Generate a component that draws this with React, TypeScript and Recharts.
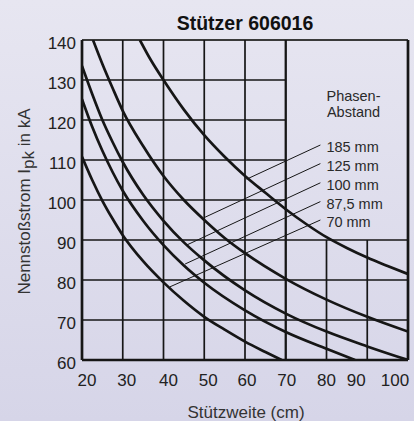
import React from 'react';
import { LineChart, Line, XAxis, YAxis, ReferenceLine, ReferenceDot } from 'recharts';

const FONT = '"Liberation Sans", Arial, Helvetica, sans-serif';
const INK = '#161616';

// Axis ticks
const xTicks = [20, 30, 40, 50, 60, 70, 80, 90, 100];
const yTicks = [60, 70, 80, 90, 100, 110, 120, 130, 140];

// Grid layout of the printed chart (values in data units)
const fullRows = [70, 80, 90];
const shortRows = [100, 110, 120, 130];
const fullCols = [30, 40, 50, 60];
const shortCols = [80, 90];

// Curves: Stützweite (cm) -> Nennstoßstrom (kA)
const span185 = [34.2, 37, 40, 45, 50, 55, 60, 65, 70, 75, 80, 85, 90, 95, 100];
const current185 = [140, 134.8, 130, 122.6, 116.2, 110.8, 106, 101.8, 97.7, 94, 90.7, 88, 85.6, 83.5, 81.5];

const span125 = [22.7, 25, 27.5, 30, 35, 40, 45, 50, 55, 60, 70, 80, 90, 100];
const current125 = [140, 134, 128, 122.3, 113.5, 106, 100, 95, 90.5, 86.7, 80.3, 75.1, 70.8, 67.1];

const span100 = [20, 22.5, 25, 27.5, 30, 35, 40, 45, 50, 60, 70, 80, 90, 100];
const current100 = [133.5, 126.5, 120, 114.5, 109.5, 101.3, 94.8, 89.4, 84.9, 77.4, 71.6, 67.1, 63.4, 60];

const span875 = [20, 22.5, 25, 27.5, 30, 35, 40, 45, 50, 60, 70, 80, 87];
const current875 = [125.2, 118.3, 112.3, 107, 102.3, 94.8, 88.7, 83.6, 79.3, 72.4, 67, 62.8, 60];

const span70 = [20, 22.5, 25, 27.5, 30, 35, 40, 45, 50, 55, 60, 65, 69];
const current70 = [110.8, 105, 99.8, 95.3, 91.2, 84.7, 79.4, 74.8, 70.8, 67.6, 64.6, 62, 60];

// Legend pointers (label end -> curve end)
const phaseLabels = ['185 mm', '125 mm', '100 mm', '87,5 mm', '70 mm'];
const pointerStartX = [78.5, 78.5, 78.5, 78.5, 78.5];
const pointerStartY = [113.75, 109.1, 104.3, 99.6, 95];
const pointerEndX = [60.4, 50.2, 45.7, 45.3, 41.6];
const pointerEndY = [105.2, 95.7, 88.75, 84, 78.3];

const toPoints = (xs: number[], ys: number[]) => xs.map((x, i) => ({ x, y: ys[i] }));

const curves = [
  toPoints(span185, current185),
  toPoints(span125, current125),
  toPoints(span100, current100),
  toPoints(span875, current875),
  toPoints(span70, current70),
];

const xTickNudge: Record<number, number> = { 20: 5, 30: 4, 40: 5, 50: 4, 60: 2, 70: 1, 80: 0, 90: -11, 100: -13 };

const XTick = (props: any) => {
  const { x, y, payload } = props;
  const v = payload.value as number;
  return (
    <text x={x + (xTickNudge[v] ?? 0)} y={y + 26} textAnchor="middle" fontSize={17} fill="#222" fontFamily={FONT}>
      {v}
    </text>
  );
};

const YTick = (props: any) => {
  const { x, y, payload } = props;
  return (
    <text x={x} y={y + 8.8} textAnchor="end" fontSize={17} fill="#222" fontFamily={FONT}>
      {payload.value}
    </text>
  );
};

export default function App() {
  return (
    <div
      style={{
        position: 'absolute',
        left: 0,
        top: 0,
        width: 414,
        height: 421,
        background: 'linear-gradient(180deg, #e7e6f1 0%, #d6d5e8 100%)',
        fontFamily: FONT,
      }}
    >
      <LineChart width={414} height={421} margin={{ top: 40, right: 6, bottom: 31, left: 32 }}>
        <XAxis
          type="number"
          dataKey="x"
          domain={[20, 100]}
          ticks={xTicks}
          allowDataOverflow
          height={30}
          tickSize={0}
          tickMargin={0}
          tickLine={false}
          axisLine={{ stroke: INK, strokeWidth: 2.7 }}
          tick={<XTick />}
          interval={0}
        />
        <YAxis
          type="number"
          dataKey="y"
          domain={[60, 140]}
          ticks={yTicks}
          allowDataOverflow
          width={50}
          tickSize={0}
          tickMargin={6}
          tickLine={false}
          axisLine={{ stroke: INK, strokeWidth: 2.7 }}
          tick={<YTick />}
          interval={0}
        />

        {fullRows.map((v) => (
          <ReferenceLine key={'fr' + v} segment={[{ x: 20, y: v }, { x: 100, y: v }]} stroke={INK} strokeWidth={1.7} />
        ))}
        {shortRows.map((v) => (
          <ReferenceLine key={'sr' + v} segment={[{ x: 20, y: v }, { x: 70, y: v }]} stroke={INK} strokeWidth={1.7} />
        ))}
        <ReferenceLine segment={[{ x: 20, y: 140 }, { x: 100, y: 140 }]} stroke="#3a3a3a" strokeWidth={1.8} />
        {fullCols.map((v) => (
          <ReferenceLine key={'fc' + v} segment={[{ x: v, y: 60 }, { x: v, y: 140 }]} stroke={INK} strokeWidth={1.7} />
        ))}
        <ReferenceLine segment={[{ x: 70, y: 60 }, { x: 70, y: 140 }]} stroke={INK} strokeWidth={2.3} />
        {shortCols.map((v) => (
          <ReferenceLine key={'sc' + v} segment={[{ x: v, y: 60 }, { x: v, y: 90 }]} stroke={INK} strokeWidth={1.7} />
        ))}
        <ReferenceLine segment={[{ x: 100, y: 60 }, { x: 100, y: 140 }]} stroke={INK} strokeWidth={2.7} />

        {phaseLabels.map((label, i) => (
          <ReferenceLine
            key={'p' + i}
            segment={[
              { x: pointerStartX[i], y: pointerStartY[i] },
              { x: pointerEndX[i], y: pointerEndY[i] },
            ]}
            stroke={INK}
            strokeWidth={1}
          />
        ))}
        {phaseLabels.map((label, i) => (
          <ReferenceDot
            key={'l' + i}
            x={pointerStartX[i]}
            y={pointerStartY[i]}
            r={0}
            shape={(p: any) => (
              <text x={p.cx + 6} y={p.cy + 7} fontSize={14.5} fill="#2a2a2a" fontFamily={FONT}>
                {label}
              </text>
            )}
          />
        ))}

        {curves.map((pts, i) => (
          <Line
            key={'c' + i}
            data={pts}
            dataKey="y"
            type="monotone"
            stroke={INK}
            strokeWidth={2.7}
            dot={false}
            activeDot={false}
            isAnimationActive={false}
          />
        ))}
      </LineChart>

      <svg
        width={414}
        height={421}
        style={{ position: 'absolute', left: 0, top: 0, pointerEvents: 'none' }}
      >
        <text x={245} y={29.5} textAnchor="middle" fontSize={19.5} fontWeight="bold" fill="#111" fontFamily={FONT}>
          Stützer 606016
        </text>
        <text x={353.5} y={100.5} textAnchor="middle" fontSize={14.5} fill="#2a2a2a" fontFamily={FONT}>
          Phasen-
        </text>
        <text x={353.5} y={116.5} textAnchor="middle" fontSize={14.5} fill="#2a2a2a" fontFamily={FONT}>
          Abstand
        </text>
        <text x={246} y={417.5} textAnchor="middle" fontSize={17} fill="#333" fontFamily={FONT}>
          Stützweite (cm)
        </text>
        <text
          x={29.5}
          y={201.5}
          textAnchor="middle"
          fontSize={17}
          fill="#333"
          fontFamily={FONT}
          transform="rotate(-90 29.5 201.5)"
        >
          Nennstoßstrom I<tspan dy={4.5}>pk</tspan>
          <tspan dy={-4.5}> in kA</tspan>
        </text>
      </svg>
    </div>
  );
}
